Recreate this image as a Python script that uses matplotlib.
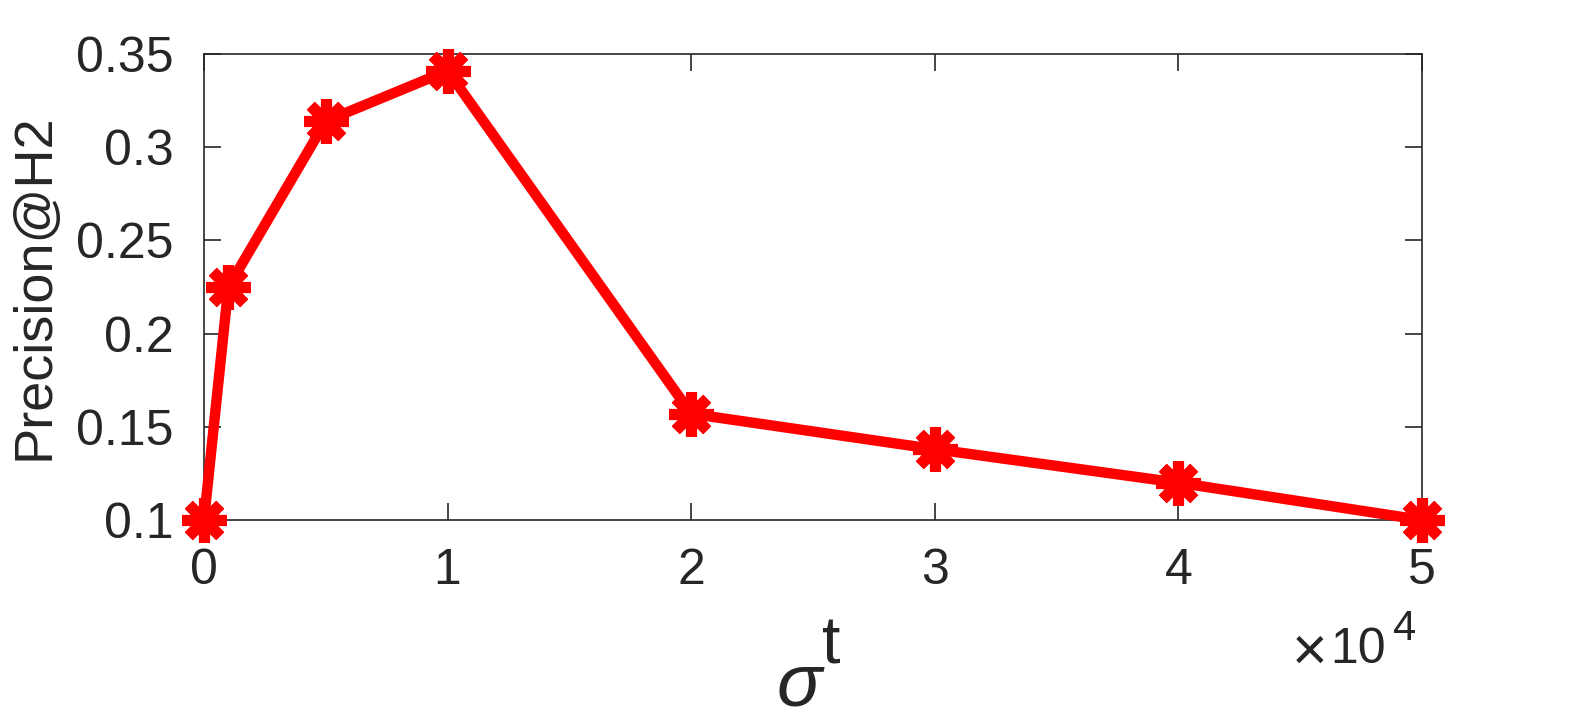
import matplotlib
matplotlib.use("Agg")
import matplotlib.pyplot as plt
from matplotlib.ticker import FuncFormatter

plt.rcParams['font.family'] = ['Liberation Sans', 'DejaVu Sans']

sigma_t = [0, 1000, 5000, 10000, 20000, 30000, 40000, 50000]
precision = [0.100, 0.225, 0.314, 0.341, 0.157, 0.138, 0.120, 0.100]
x_ticks = [0, 10000, 20000, 30000, 40000, 50000]
y_ticks = [0.1, 0.15, 0.2, 0.25, 0.3, 0.35]

txt = '#262626'
W, H = 1573, 725
fig = plt.figure(figsize=(W / 100, H / 100), dpi=100)
ax = fig.add_axes([204/W, 1 - 520/H, (1422 - 204)/W, (520 - 54)/H])

ax.plot(sigma_t, precision, color='#ff0000', lw=7.5,
        marker=(8, 2, 0), markersize=32, markeredgewidth=8,
        markeredgecolor='#ff0000', clip_on=False, zorder=3)

ax.set_xlim(0, 50000)
ax.set_ylim(0.1, 0.35)
ax.set_xticks(x_ticks)
ax.set_yticks(y_ticks)
ax.xaxis.set_major_formatter(FuncFormatter(lambda v, p: f'{v/1e4:g}'))
ax.yaxis.set_major_formatter(FuncFormatter(lambda v, p: f'{v:g}'))
ax.tick_params(direction='in', length=12, width=1.2, colors=txt,
               labelsize=36, top=True, right=True)
ax.tick_params(axis='y', pad=22)
ax.tick_params(axis='x', pad=20)
for s in ax.spines.values():
    s.set_color(txt)
    s.set_linewidth(1.2)

ax.set_ylabel('Precision@H2', fontsize=39, color=txt, labelpad=12)

# x label: sigma with large superscript t
fig.text(799/W, 1 - 706/H, '\u03c3', fontsize=54, style='italic',
         color=txt, ha='center', va='baseline')
fig.text(822/W, 1 - 663/H, 't', fontsize=48, color=txt,
         ha='left', va='baseline')

# exponent label
fig.text(1310/W, 1 - 670/H, '\u00d7', fontsize=44, color=txt,
         ha='center', va='baseline')
fig.text(1386/W, 1 - 663/H, '10', fontsize=36, color=txt,
         ha='right', va='baseline')
fig.text(1393/W, 1 - 640/H, '4', fontsize=30, color=txt,
         ha='left', va='baseline')

fig.savefig('out.png', dpi=100)
